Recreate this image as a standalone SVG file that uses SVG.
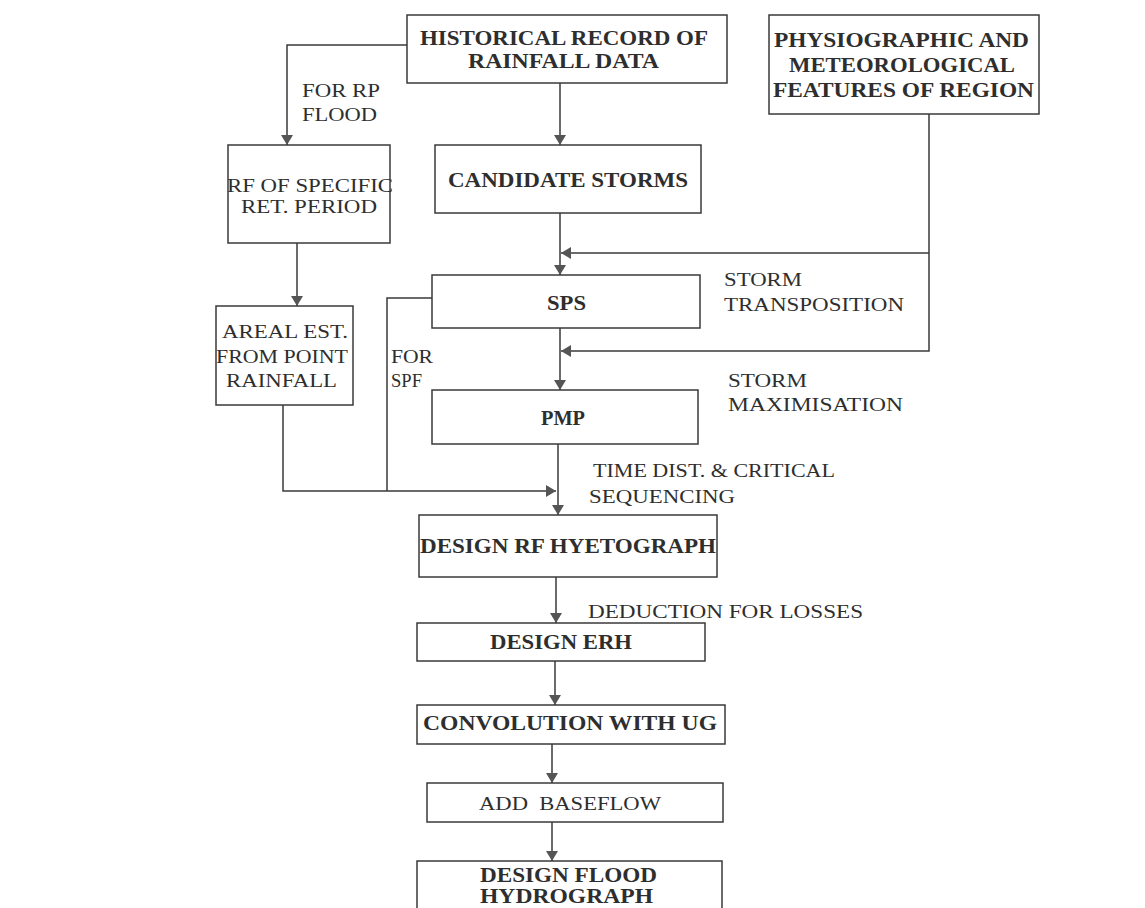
<svg xmlns="http://www.w3.org/2000/svg" width="1145" height="908" viewBox="0 0 1145 908">
<style>
.box{fill:none;stroke:#3a3a3a;stroke-width:1.5}
.ln{fill:none;stroke:#3a3a3a;stroke-width:1.5}
.ar{marker-end:url(#ah)}
text{font-family:"Liberation Serif","Times New Roman",serif;fill:#2e2e2e}
.b{font-weight:bold;font-size:20px}
.r{font-size:18px}
</style>
<defs>
<marker id="ah" viewBox="0 0 10 12" markerWidth="10" markerHeight="12" refX="10" refY="6" orient="auto" markerUnits="userSpaceOnUse">
<path d="M0,0 L10,6 L0,12 z" fill="#555"/>
</marker>
</defs>
<rect width="1145" height="908" fill="#fff"/>
<g id="connectors">
<path class="ln ar" d="M407,45 H287 V145"/>
<path class="ln ar" d="M560,83 V145"/>
<path class="ln ar" d="M560,213 V275"/>
<path class="ln ar" d="M929,114 V351 H561"/>
<path class="ln ar" d="M929,253 H561"/>
<path class="ln ar" d="M560,328 V390"/>
<path class="ln ar" d="M297,243 V306"/>
<path class="ln ar" d="M283,405 V491 H556"/>
<path class="ln" d="M432,298 H387 V491"/>
<path class="ln ar" d="M558,444 V515"/>
<path class="ln ar" d="M556,577 V623"/>
<path class="ln ar" d="M555,661 V705"/>
<path class="ln ar" d="M552,744 V783"/>
<path class="ln ar" d="M552,822 V861"/>
</g>
<g id="labels">
<text class="r" x="302" y="97" textLength="78" lengthAdjust="spacingAndGlyphs">FOR RP</text>
<text class="r" x="302" y="121" textLength="75" lengthAdjust="spacingAndGlyphs">FLOOD</text>
<text class="r" x="724" y="286" textLength="78" lengthAdjust="spacingAndGlyphs">STORM</text>
<text class="r" x="724" y="311" textLength="180" lengthAdjust="spacingAndGlyphs">TRANSPOSITION</text>
<text class="r" x="728" y="387" textLength="79" lengthAdjust="spacingAndGlyphs">STORM</text>
<text class="r" x="728" y="411" textLength="175" lengthAdjust="spacingAndGlyphs">MAXIMISATION</text>
<text class="r" x="391" y="363" textLength="42" lengthAdjust="spacingAndGlyphs">FOR</text>
<text class="r" x="391" y="387" textLength="31" lengthAdjust="spacingAndGlyphs">SPF</text>
<text class="r" x="593" y="477" textLength="242" lengthAdjust="spacingAndGlyphs">TIME DIST. &amp; CRITICAL</text>
<text class="r" x="589" y="503" textLength="146" lengthAdjust="spacingAndGlyphs">SEQUENCING</text>
<text class="r" x="588" y="618" textLength="275" lengthAdjust="spacingAndGlyphs">DEDUCTION FOR LOSSES</text>
</g>
<g id="historical">
<rect class="box" x="407" y="15" width="320" height="68"/>
<text class="b" x="420" y="45" textLength="288" lengthAdjust="spacingAndGlyphs">HISTORICAL RECORD OF</text>
<text class="b" x="468" y="68" textLength="191" lengthAdjust="spacingAndGlyphs">RAINFALL DATA</text>
</g>
<g id="physiographic">
<rect class="box" x="769" y="15" width="270" height="99"/>
<text class="b" x="774" y="47" textLength="255" lengthAdjust="spacingAndGlyphs">PHYSIOGRAPHIC AND</text>
<text class="b" x="789" y="72" textLength="226" lengthAdjust="spacingAndGlyphs">METEOROLOGICAL</text>
<text class="b" x="773" y="97" textLength="261" lengthAdjust="spacingAndGlyphs">FEATURES OF REGION</text>
</g>
<g id="rf-specific">
<rect class="box" x="228" y="145" width="162" height="98"/>
<text class="r" x="227" y="192" textLength="166" lengthAdjust="spacingAndGlyphs">RF OF SPECIFIC</text>
<text class="r" x="241" y="213" textLength="136" lengthAdjust="spacingAndGlyphs">RET. PERIOD</text>
</g>
<g id="candidate">
<rect class="box" x="435" y="145" width="266" height="68"/>
<text class="b" x="448" y="187" textLength="240" lengthAdjust="spacingAndGlyphs">CANDIDATE STORMS</text>
</g>
<g id="sps">
<rect class="box" x="432" y="275" width="268" height="53"/>
<text class="b" x="547" y="310" textLength="39" lengthAdjust="spacingAndGlyphs">SPS</text>
</g>
<g id="areal">
<rect class="box" x="216" y="306" width="137" height="99"/>
<text class="r" x="222" y="338" textLength="126" lengthAdjust="spacingAndGlyphs">AREAL EST.</text>
<text class="r" x="216" y="363" textLength="132" lengthAdjust="spacingAndGlyphs">FROM POINT</text>
<text class="r" x="226" y="387" textLength="111" lengthAdjust="spacingAndGlyphs">RAINFALL</text>
</g>
<g id="pmp">
<rect class="box" x="432" y="390" width="266" height="54"/>
<text class="b" x="541" y="425" textLength="44" lengthAdjust="spacingAndGlyphs">PMP</text>
</g>
<g id="hyetograph">
<rect class="box" x="419" y="515" width="298" height="62"/>
<text class="b" x="420" y="553" textLength="296" lengthAdjust="spacingAndGlyphs">DESIGN RF HYETOGRAPH</text>
</g>
<g id="erh">
<rect class="box" x="417" y="623" width="288" height="38"/>
<text class="b" x="490" y="649" textLength="142" lengthAdjust="spacingAndGlyphs">DESIGN ERH</text>
</g>
<g id="convolution">
<rect class="box" x="417" y="705" width="308" height="39"/>
<text class="b" x="423" y="730" textLength="294" lengthAdjust="spacingAndGlyphs">CONVOLUTION WITH UG</text>
</g>
<g id="baseflow">
<rect class="box" x="427" y="783" width="296" height="39"/>
<text class="r" x="479" y="810" textLength="182" lengthAdjust="spacingAndGlyphs" xml:space="preserve">ADD  BASEFLOW</text>
</g>
<g id="flood-hydrograph">
<rect class="box" x="417" y="861" width="305" height="60"/>
<text class="b" x="480" y="882" textLength="177" lengthAdjust="spacingAndGlyphs">DESIGN FLOOD</text>
<text class="b" x="480" y="903" textLength="173" lengthAdjust="spacingAndGlyphs">HYDROGRAPH</text>
</g>
</svg>
